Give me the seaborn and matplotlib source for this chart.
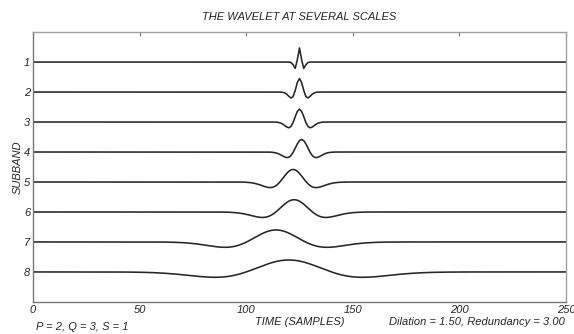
import numpy as np
import pandas as pd
import matplotlib
matplotlib.use("Agg")
import matplotlib.pyplot as plt
import seaborn as sns

# Per-subband wavelet parameters: centre (samples), width (samples), peak height (axis units)
subbands = [1, 2, 3, 4, 5, 6, 7, 8]
centers = [125, 125, 125, 126, 122, 122.5, 114, 120]
widths = [1.15, 2.2, 2.9, 3.9, 6.2, 8.6, 13.8, 20.0]
peaks = [0.47, 0.45, 0.43, 0.42, 0.42, 0.41, 0.40, 0.40]
xticks = [0, 50, 100, 150, 200, 250]

t = np.arange(0, 251)


def wavelet(time, c, w, a):
    u = (time - c) / w
    return a * (1.0 - u ** 2) * np.exp(-0.5 * u ** 2)


frames = []
for k, c, w, a in zip(subbands, centers, widths, peaks):
    frames.append(pd.DataFrame({
        "time": t,
        "level": k - wavelet(t, c, w, a),
        "subband": k,
    }))
df = pd.concat(frames, ignore_index=True)

sns.set_style("white")
plt.rcParams["font.family"] = ["Liberation Sans", "DejaVu Sans"]

fig = plt.figure(figsize=(5.74, 3.34), dpi=100)
ax = fig.add_axes([0.0575, 0.096, 0.9285, 0.808])

sns.lineplot(data=df, x="time", y="level", units="subband", estimator=None,
             color="#262626", linewidth=1.15, ax=ax, legend=False)

ax.set_xlim(0, 250)
ax.set_ylim(9, 0)
ax.set_xticks(xticks)
ax.set_xticklabels([str(v) for v in xticks], style="italic", fontsize=8)
ax.set_yticks(subbands)
ax.set_yticklabels([str(v) for v in subbands], style="italic", fontsize=8)
ax.tick_params(axis="x", direction="in", length=3, top=True, color="#777777",
               pad=2)
ax.tick_params(axis="y", direction="in", length=0, pad=2)

for name, sp in ax.spines.items():
    sp.set_visible(True)
    sp.set_linewidth(1.0)
    sp.set_color("#a0a0a0" if name in ("top", "right") else "#777777")

ax.set_xlabel("TIME (SAMPLES)", style="italic", fontsize=8, labelpad=2)
ax.set_ylabel("SUBBAND", style="italic", fontsize=8, labelpad=1)
ax.set_title("THE WAVELET AT SEVERAL SCALES", style="italic", fontsize=8,
             pad=9)

fig.text(0.062, 0.012, "P = 2, Q = 3, S = 1", style="italic", fontsize=8)
fig.text(0.984, 0.026, "Dilation = 1.50, Redundancy = 3.00", style="italic",
         fontsize=8, ha="right")

fig.savefig("out.png", dpi=100, facecolor="white")
